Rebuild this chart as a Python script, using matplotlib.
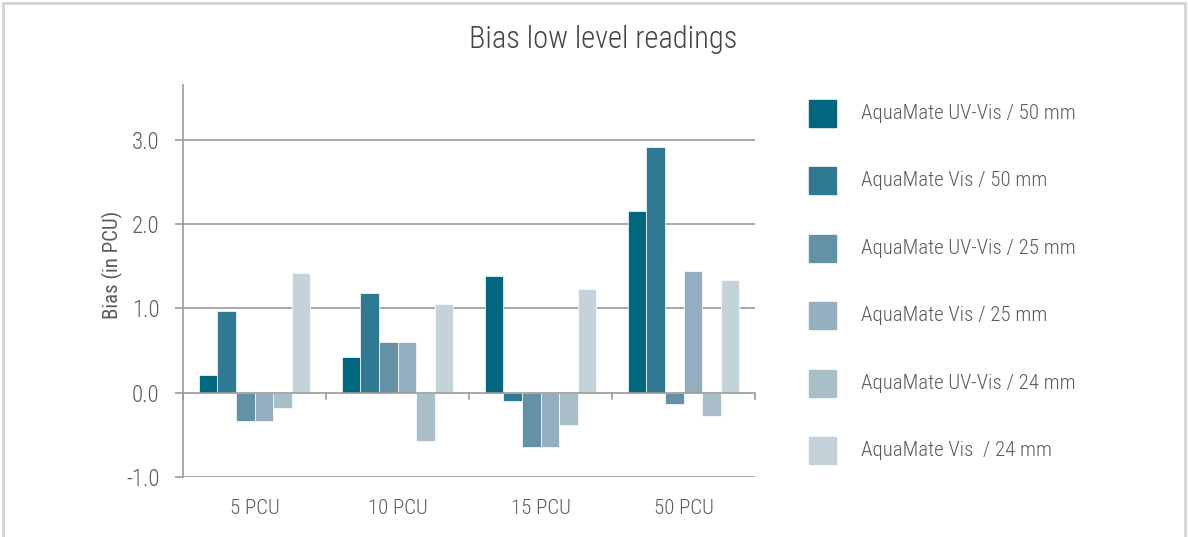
import numpy as np
import matplotlib
matplotlib.use('Agg')
import matplotlib.pyplot as plt
from matplotlib.patches import Rectangle
from matplotlib import font_manager

# data
categories = ['5 PCU', '10 PCU', '15 PCU', '50 PCU']
series_names = ['AquaMate UV-Vis / 50 mm', 'AquaMate Vis / 50 mm',
                'AquaMate UV-Vis / 25 mm', 'AquaMate Vis / 25 mm',
                'AquaMate UV-Vis / 24 mm', 'AquaMate Vis  / 24 mm']
uvvis_50 = [0.21, 0.42, 1.39, 2.15]
vis_50 = [0.97, 1.18, -0.10, 2.91]
uvvis_25 = [-0.33, 0.60, -0.65, -0.13]
vis_25 = [-0.33, 0.60, -0.65, 1.44]
uvvis_24 = [-0.18, -0.57, -0.38, -0.28]
vis_24 = [1.42, 1.05, 1.23, 1.34]
series = [uvvis_50, vis_50, uvvis_25, vis_25, uvvis_24, vis_24]
colors = ['#00677f', '#2f7a92', '#6591a7', '#93afbf', '#a9bec9', '#c4d2da']
yticks = [-1.0, 0.0, 1.0, 2.0, 3.0]

names = {f.name for f in font_manager.fontManager.ttflist}
fam = [f for f in ['Liberation Sans Narrow', 'Roboto Condensed', 'Roboto', 'DejaVu Sans']
       if f in names]
plt.rcParams['font.family'] = fam
plt.rcParams['font.weight'] = 'light'

txt = '#5a5a5a'
grid = '#9a9a9a'

fig = plt.figure(figsize=(11.88, 5.37), dpi=100)
ax = fig.add_axes([183 / 1188, 1 - 477 / 537, 572 / 1188, (477 - 85) / 537])

x = np.arange(len(categories))
w = 0.13
for i, vals in enumerate(series):
    ax.bar(x + (i - 2.5) * w, vals, width=w, color=colors[i],
           edgecolor='white', linewidth=0.5, zorder=2)

ax.set_xlim(-0.5, len(categories) - 0.5)
ax.set_ylim(-1.0, 3.65)
ax.set_yticks(yticks)
ax.set_yticklabels(['%.1f' % v for v in yticks], fontsize=16.5, color=txt)
for v in yticks:
    ax.axhline(v, color=grid, lw=1.2, zorder=1 if v != 0 else 3)

# category boundary ticks on the zero line
for b in np.arange(-0.5, len(categories), 1.0):
    ax.plot([b, b], [0, -0.07], color=grid, lw=1.2, zorder=3, clip_on=False)

ax.set_xticks(x)
ax.set_xticklabels(categories, fontsize=15, color=txt)
ax.tick_params(axis='x', length=0, pad=16)
ax.tick_params(axis='y', length=6, width=1.2, color=grid, pad=11)
for s in ['top', 'right', 'bottom']:
    ax.spines[s].set_visible(False)
ax.spines['left'].set_color(grid)
ax.spines['left'].set_linewidth(1.2)
ax.set_ylabel('Bias (in PCU)', fontsize=15, color=txt)
ax.yaxis.set_label_coords(-0.105, 0.54)

fig.text(603 / 1188, 1 - 40 / 537, 'Bias low level readings', ha='center', va='center',
         fontsize=22, color='#444444')

# legend
for i, name in enumerate(series_names):
    yc = 113.5 + i * 67.4
    fig.add_artist(Rectangle((809 / 1188, 1 - (yc + 13.5) / 537), 27 / 1188, 27 / 537,
                             transform=fig.transFigure, color=colors[i]))
    fig.text(861 / 1188, 1 - yc / 537, name, ha='left', va='center',
             fontsize=15, color=txt)

# light frame round the picture
fig.add_artist(Rectangle((3 / 1188, -0.01), 1182 / 1188, 1 - 3 / 537 + 0.01,
                         transform=fig.transFigure, fill=False,
                         edgecolor='#d4d4d4', lw=2))

fig.savefig('out.png', dpi=100)
